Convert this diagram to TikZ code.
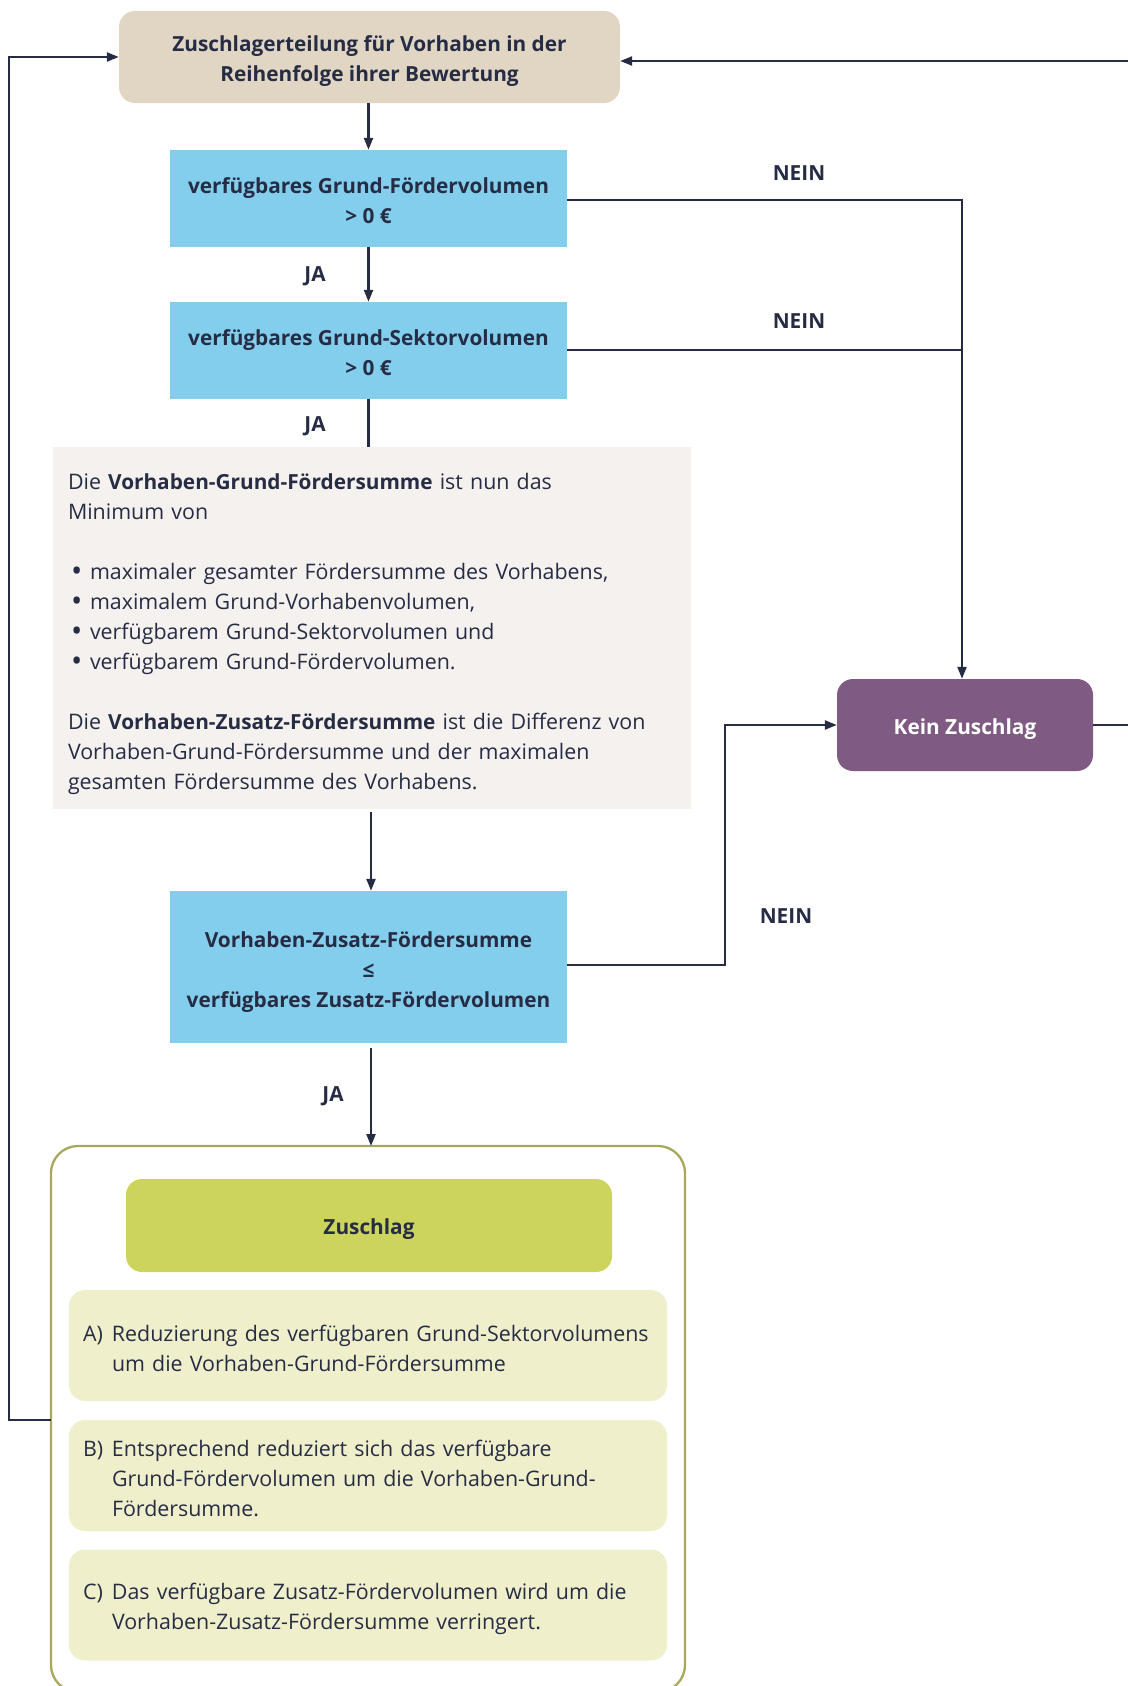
\documentclass[tikz,border=0pt]{standalone}
\usepackage{fontspec}
\setmainfont{Open Sans}
\usetikzlibrary{arrows.meta}
\definecolor{ink}{HTML}{272C45}
\definecolor{beige}{HTML}{E0D6C3}
\definecolor{qblue}{HTML}{83CEEC}
\definecolor{qgray}{HTML}{F4F1EE}
\definecolor{purp}{HTML}{7F5A83}
\definecolor{lime}{HTML}{CDD45B}
\definecolor{palelime}{HTML}{EFF0CB}
\definecolor{olive}{HTML}{A8A85A}
\tikzset{
  txt/.style={font=\fontsize{21.4}{30}\selectfont, text=ink},
  btxt/.style={font=\bfseries\fontsize{20.8}{30}\selectfont, text=ink},
  termbox/.style={rounded corners=16pt, inner sep=0pt},
  qbox/.style={fill=qblue, inner sep=0pt, minimum width=397pt},
  stepnote/.style={fill=palelime, rounded corners=16pt, inner sep=0pt, minimum width=598pt, minimum height=111pt},
  steptext/.style={txt, align=left, inner sep=0pt, text width=570pt},
  ctext/.style={btxt, align=center, inner sep=0pt},
  conn/.style={draw=ink, line width=2.3pt},
  arr/.style={conn, -{Triangle[length=12pt,width=9pt]}},
  lbl/.style={btxt}
}
\newcommand{\bul}{\makebox[22pt][l]{\hspace*{3pt}\raisebox{-2.4pt}{\scalebox{1.4}{\textbullet}}}}
\newcommand{\bfx}[1]{{\bfseries\fontsize{20.8}{30}\selectfont #1}}
\begin{document}
\begin{tikzpicture}[x=1pt,y=-1pt]
\useasboundingbox (0,0) rectangle (1127,1686);
% shapes
\node[termbox, fill=beige, minimum width=501pt, minimum height=92pt] (start) at (369.5,57) {};
\node[qbox, minimum height=97pt] (q1) at (368.5,198.5) {};
\node[qbox, minimum height=97pt] (q2) at (368.5,350.5) {};
\node[fill=qgray, inner sep=0pt, minimum width=638pt, minimum height=362pt] (info) at (372,628) {};
\node[qbox, minimum height=152pt] (q3) at (368.5,967) {};
\node[termbox, fill=purp, minimum width=256pt, minimum height=92pt] (kein) at (965,725) {};
\draw[olive, line width=2.3pt, rounded corners=27pt] (51,1146) rectangle (685,1692);
\coordinate (outerN) at (371,1146);
\coordinate (outerW) at (51,1420);
\node[termbox, fill=lime, minimum width=486pt, minimum height=93pt] (zus) at (369,1225.5) {};
\node[stepnote] (sa) at (368,1345.5) {};
\node[stepnote] (sb) at (368,1475.5) {};
\node[stepnote] (sc) at (368,1605) {};
% texts
\node[ctext] (startT) at ([yshift=-4pt]start.center) {Zuschlagerteilung für Vorhaben in der\\Reihenfolge ihrer Bewertung};
\node[ctext] (q1T) at ([yshift=-2.5pt]q1.center) {verfügbares Grund-Fördervolumen\\> 0 €};
\node[ctext] (q2T) at ([yshift=-2.5pt]q2.center) {verfügbares Grund-Sektorvolumen\\> 0 €};
\node[txt, align=left, inner sep=0pt, text width=608pt] (infoT) at ([yshift=-6pt]info.center) {Die \bfx{Vorhaben-Grund-Fördersumme} ist nun das\\Minimum von\\[30pt]
\bul maximaler gesamter Fördersumme des Vorhabens,\\
\bul maximalem Grund-Vorhabenvolumen,\\
\bul verfügbarem Grund-Sektorvolumen und\\
\bul verfügbarem Grund-Fördervolumen.\\[30pt]
Die \bfx{Vorhaben-Zusatz-Fördersumme} ist die Differenz von\\Vorhaben-Grund-Fördersumme und der maximalen\\gesamten Fördersumme des Vorhabens.};
\node[ctext] (q3T) at ([yshift=-5pt]q3.center) {Vorhaben-Zusatz-Fördersumme\\≤\\verfügbares Zusatz-Fördervolumen};
\node[ctext, text=white] (keinT) at ([yshift=-4pt]kein.center) {Kein Zuschlag};
\node[ctext] (zusT) at ([yshift=-4pt]zus.center) {Zuschlag};
\node[steptext] (saT) at ([yshift=-2.5pt]sa.center) {\makebox[29pt][l]{A)}Reduzierung des verfügbaren Grund-Sektorvolumens\\\hspace*{29pt}um die Vorhaben-Grund-Fördersumme};
\node[steptext] (sbT) at ([yshift=-2.5pt]sb.center) {\makebox[29pt][l]{B)}Entsprechend reduziert sich das verfügbare\\\hspace*{29pt}Grund-Fördervolumen um die Vorhaben-Grund-\\\hspace*{29pt}Fördersumme.};
\node[steptext] (scT) at ([yshift=-4pt]sc.center) {\makebox[29pt][l]{C)}Das verfügbare Zusatz-Fördervolumen wird um die\\\hspace*{29pt}Vorhaben-Zusatz-Fördersumme verringert.};
% connectors
\draw[arr] (start.south -| q1.north) -- (q1.north);
\draw[arr] (q1.south) -- (q2.north);
\draw[conn] (q2.south) -- (q2.south |- info.north);
\coordinate (m1) at (371,812);
\draw[arr] (m1) -- (m1 |- q3.north);
\coordinate (m2) at (371,1048);
\draw[arr] (m2) -- (outerN);
\coordinate (j1) at (962,200);
\coordinate (j2) at (962,350);
\draw[arr] (q1.east |- j1) -- (j1) -- (j1 |- kein.north);
\draw[conn] (q2.east |- j2) -- (j2);
\coordinate (j3) at (725,965);
\draw[arr] (q3.east |- j3) -- (j3) -- (j3 |- kein.west) -- (kein.west);
\coordinate (r1) at (1130,725);
\coordinate (r2) at (1130,61);
\draw[arr] (kein.east) -- (r1) -- (r2) -- (start.east |- r2);
\coordinate (l1) at (9,1420);
\coordinate (l2) at (9,57);
\draw[arr] (outerW) -- (l1) -- (l2) -- (start.west |- l2);
% labels
\node[lbl] (n1) at (799,173) {NEIN};
\node[lbl] (n2) at (799,321) {NEIN};
\node[lbl] (n3) at (786,916) {NEIN};
\node[lbl] (ja1) at (315,276.5) {JA};
\node[lbl] (ja2) at (315,426.5) {JA};
\node[lbl] (ja3) at (333,1096) {JA};
\end{tikzpicture}
\end{document}
